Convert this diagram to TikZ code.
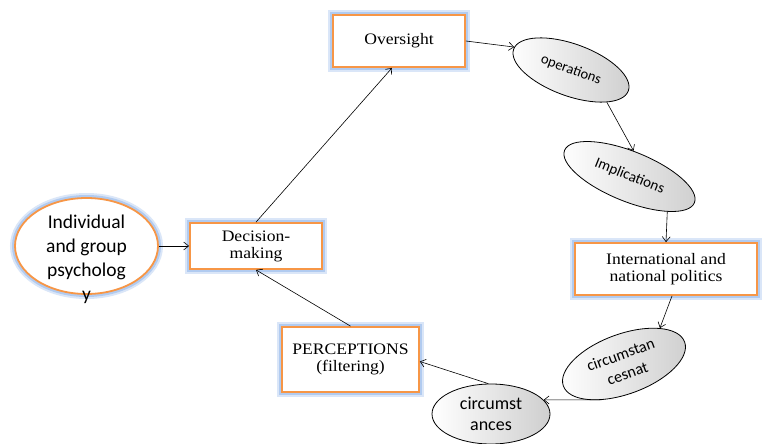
\documentclass[tikz,border=0pt]{standalone}
\usepackage{fontspec}
\setmainfont{Liberation Serif}
\newfontfamily\calib{Carlito}
\newfontfamily\boxfont[FakeStretch=1.1]{Liberation Serif}
\usetikzlibrary{shapes.geometric,arrows.meta,calc}
\definecolor{orangeline}{RGB}{247,150,70}
\definecolor{glowblue}{RGB}{150,185,235}
\begin{document}
\begin{tikzpicture}[x=1pt,y=-1pt,
  glow/.style={preaction={draw=glowblue, draw opacity=0.35, line width=10pt},
               preaction={draw=glowblue, draw opacity=0.6, line width=6pt}},
  orangebox/.style={rectangle, glow, draw=orangeline, line width=1.8pt, fill=white,
     align=center, inner sep=0pt, font=\boxfont\fontsize{16}{17}\selectfont},
  orangeell/.style={ellipse, glow, draw=orangeline, line width=1.8pt, fill=white, inner sep=0pt},
  grayell/.style={ellipse, draw=black, line width=0.8pt, left color=white, right color=gray!38,
     inner sep=0pt, align=center},
  arr/.style={-{Straight Barb[length=5pt,width=8pt]}, line width=0.6pt, black}]
\useasboundingbox (0,0) rectangle (763,444);
\fill[white] (0,0) rectangle (763,444);

% orange-bordered shapes
\node[orangeell, minimum width=143, minimum height=96] (psych) at (86.5,246) {};
\node[font=\calib\fontsize{19.5}{24}\selectfont, align=center, inner sep=0pt] (psychtext) at (86.5,259)
  {Individual\\and group\\psycholog\\y};
\node[orangebox, minimum width=132, minimum height=46] (dec) at (256,246) {Decision-\\making};
\node[orangebox, minimum width=132, minimum height=52] (over) at (399,41) {Oversight};
\node[orangebox, minimum width=182, minimum height=52] (intl) at (666,269) {International and\\national politics};
\node[orangebox, minimum width=137, minimum height=65] (perc) at (350.5,359.5) {PERCEPTIONS\\(filtering)};

% gray ellipses
\node[grayell, rotate=-20, minimum width=122, minimum height=52,
      font=\calib\fontsize{14.5}{17}\selectfont] (ops) at (571,70) {operations};
\node[grayell, rotate=-22, minimum width=140, minimum height=50,
      font=\calib\fontsize{15}{17}\selectfont] (impl) at (629.5,176.5) {Implications};
\node[grayell, rotate=20, minimum width=129, minimum height=60,
      font=\calib\fontsize{16}{20}\selectfont] (circa) at (624,364) {circumstan\\cesnat};
\node[grayell, minimum width=118, minimum height=60,
      font=\calib\fontsize{18}{21}\selectfont] (circb) at (491,414) {circumst\\ances};

% connectors
\draw[arr] (psych.east) -- (dec.west);
\draw[arr] (dec.north) -- ([xshift=-7pt]over.south);
\draw[arr] (over.east) -- (ops.178);
\draw[arr] (ops.338) -- (impl.103);
\draw[arr] (impl.339) -- (intl.north);
\draw[arr] ([xshift=6pt]intl.south) -- (circa.25);
\draw[arr] (circa.218) -- (circb.15);
\draw[arr] (circb.95) -- ([yshift=-2pt]perc.east);
\draw[arr] (perc.north) -- (dec.south);
\end{tikzpicture}
\end{document}
